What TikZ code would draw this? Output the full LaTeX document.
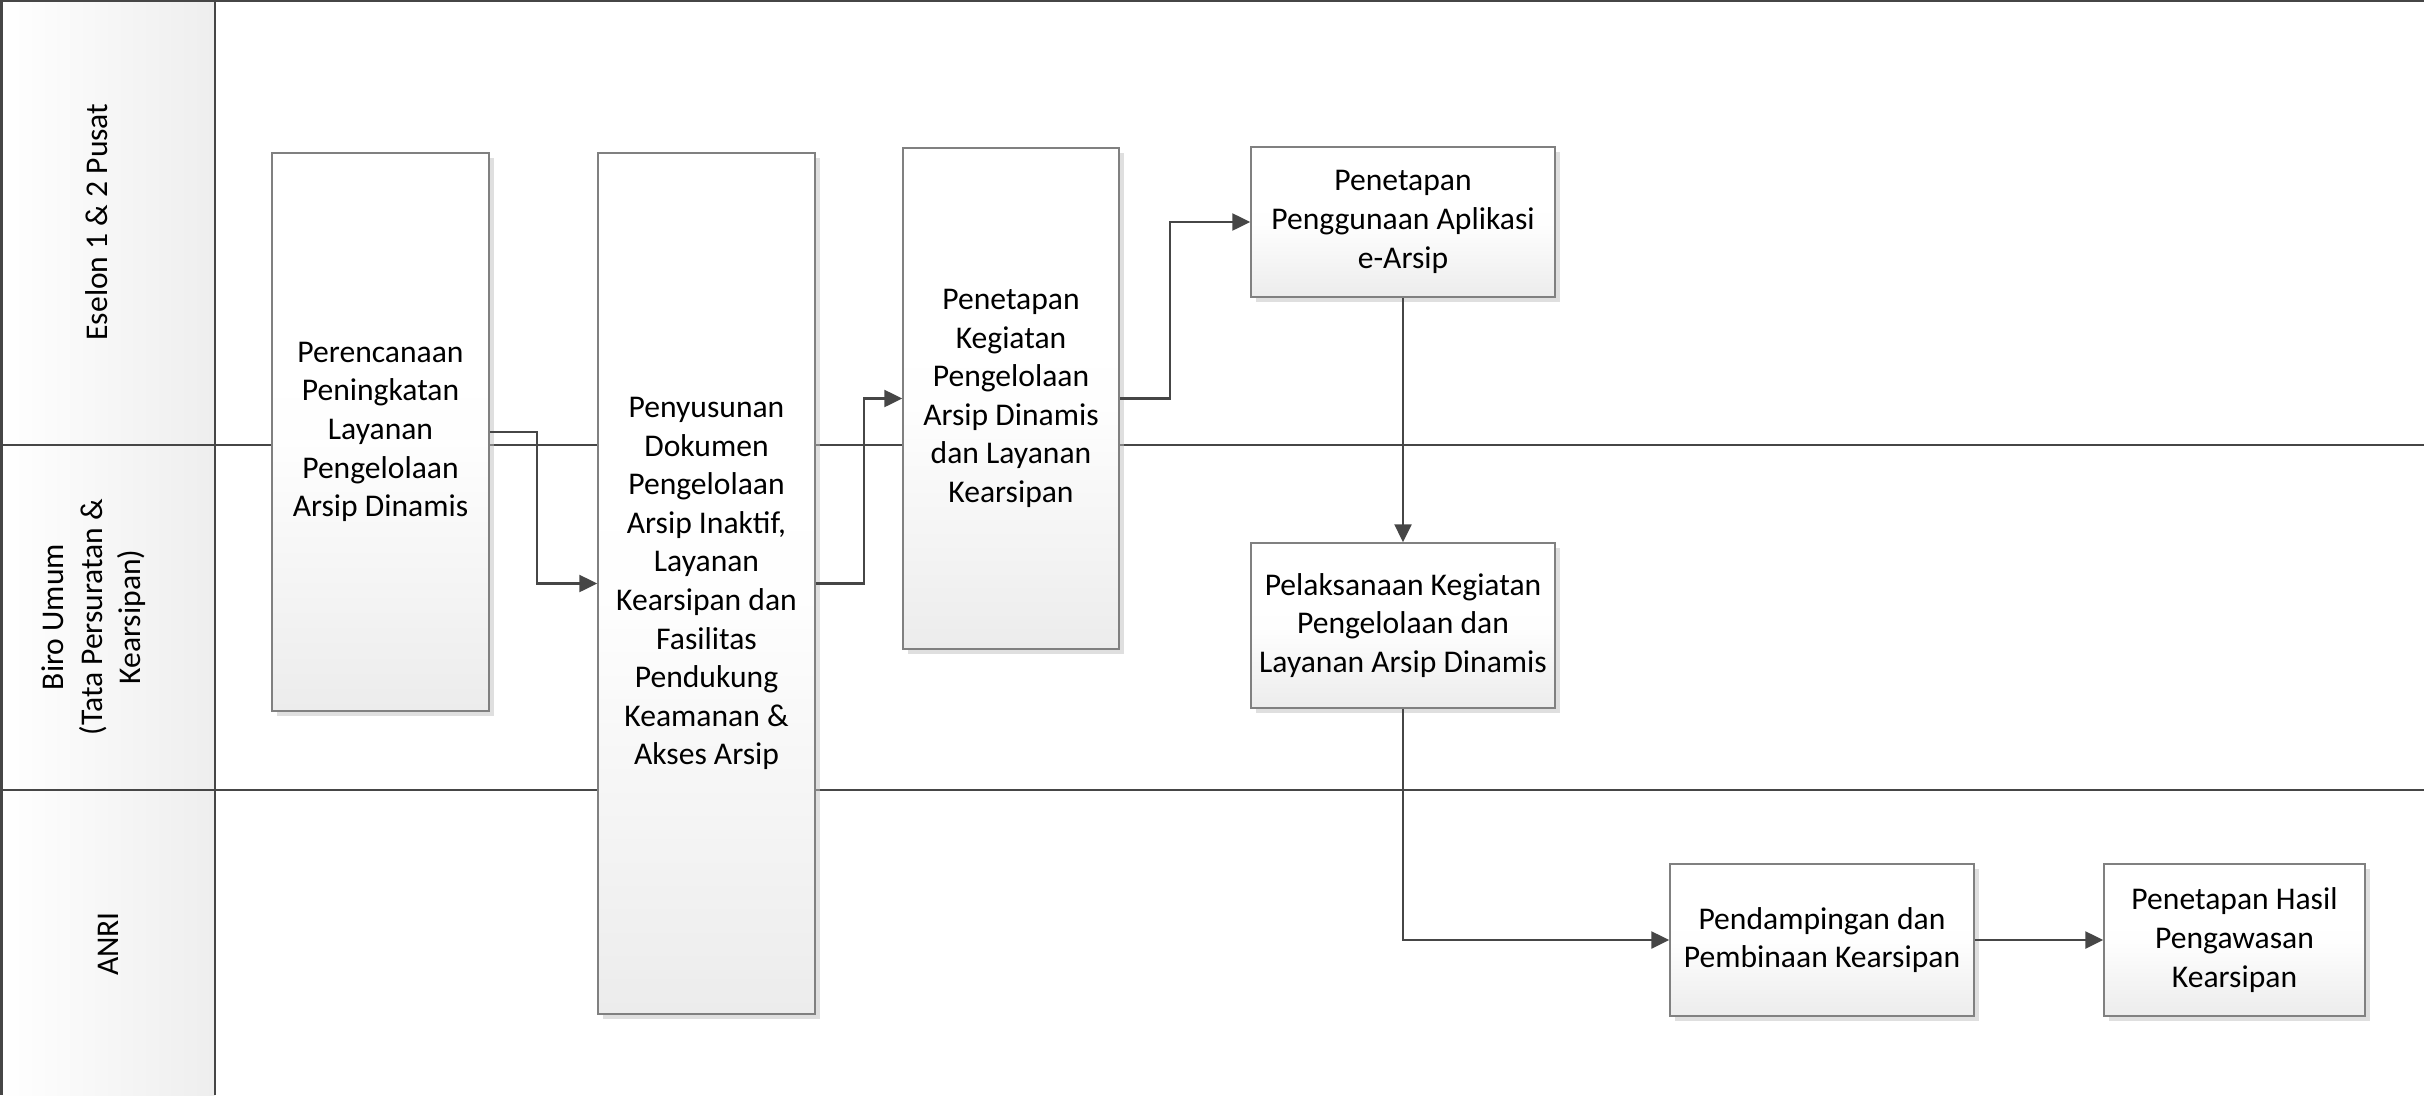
\documentclass[tikz,border=0pt]{standalone}
\usepackage{fontspec}
\setmainfont{Carlito}
\usetikzlibrary{arrows.meta,shadows}
\definecolor{linegray}{RGB}{70,70,70}
\definecolor{boxborder}{RGB}{128,128,128}
\definecolor{boxbottom}{RGB}{236,236,236}
\definecolor{headgray}{RGB}{238,238,238}
\tikzset{
  lane/.style={draw=linegray, line width=2.5pt},
  procbox/.style={rectangle, draw=boxborder, line width=1.5pt, inner sep=0pt,
    top color=white, bottom color=boxbottom, middle color=white!97!boxbottom,
    align=center, text=black, font=\fontsize{31.6pt}{38.6pt}\selectfont,
    drop shadow={shadow xshift=5pt, shadow yshift=-5pt, fill=black!25, opacity=0.5}},
  headtext/.style={rotate=90, align=center, text=black, font=\fontsize{31.6pt}{38.6pt}\selectfont},
  conn/.style={draw=linegray, line width=2.5pt, -{Triangle[length=18pt,width=17pt]}}
}
\begin{document}
\begin{tikzpicture}[x=1pt,y=-1pt]
\useasboundingbox (0,0) rectangle (2424,1095);
% header column
\shade[left color=white, right color=headgray] (0,0) rectangle (215,1095);
\draw[lane] (1.5,0) -- (1.5,1095);
\draw[lane] (215,0) -- (215,1095);
\draw[lane] (0,1.2) -- (2424,1.2);
\draw[lane] (0,445) -- (2424,445);
\draw[lane] (0,790) -- (2424,790);
% lane titles
\node[headtext] (h1) at (97,222) {Eselon 1 \& 2 Pusat};
\node[headtext] (h2) at (94,617) {Biro Umum\\(Tata Persuratan \&\\Kearsipan)};
\node[headtext] (h3) at (108,944) {ANRI};
% boxes
\node[procbox, minimum width=217pt, minimum height=558pt] (b1) at (380.5,432) {Perencanaan\\Peningkatan\\Layanan\\Pengelolaan\\Arsip Dinamis};
\node[procbox, minimum width=217pt, minimum height=861pt] (b2) at (706.5,583.5) {Penyusunan\\Dokumen\\Pengelolaan\\Arsip Inaktif,\\Layanan\\Kearsipan dan\\Fasilitas\\Pendukung\\Keamanan \&\\Akses Arsip};
\node[procbox, minimum width=216pt, minimum height=501pt] (b3) at (1011,398.5) {Penetapan\\Kegiatan\\Pengelolaan\\Arsip Dinamis\\dan Layanan\\Kearsipan};
\node[procbox, minimum width=304pt, minimum height=150pt] (b4) at (1403,222) {Penetapan\\Penggunaan Aplikasi\\e-Arsip};
\node[procbox, minimum width=304pt, minimum height=165pt] (b5) at (1403,625.5) {Pelaksanaan Kegiatan\\Pengelolaan dan\\Layanan Arsip Dinamis};
\node[procbox, minimum width=304pt, minimum height=152pt] (b6) at (1822,940) {Pendampingan dan\\Pembinaan Kearsipan};
\node[procbox, minimum width=261pt, minimum height=152pt] (b7) at (2234.5,940) {Penetapan Hasil\\Pengawasan\\Kearsipan};
% connectors
\draw[conn] (b1.east) -- ++(47,0) |- (b2.west);
\draw[conn] (b2.east) -- ++(48,0) |- (b3.west);
\draw[conn] (b3.east) -- ++(50,0) |- (b4.west);
\draw[conn] (b4.south) -- (b5.north);
\draw[conn] (b5.south) |- (b6.west);
\draw[conn] (b6.east) -- (b7.west);
\end{tikzpicture}
\end{document}
